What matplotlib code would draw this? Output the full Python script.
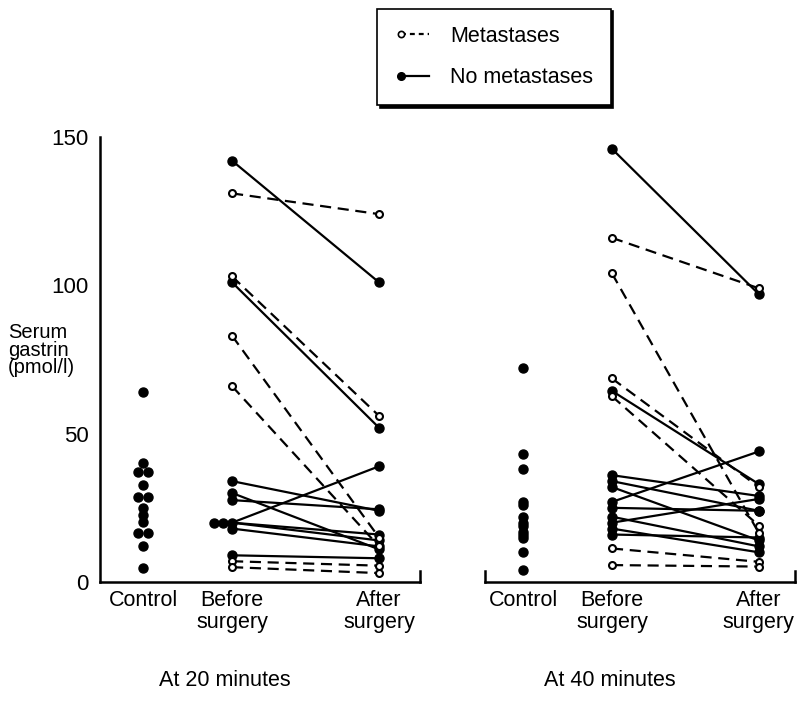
import numpy as np
import matplotlib
matplotlib.use("Agg")
import matplotlib.pyplot as plt
from matplotlib.lines import Line2D
from matplotlib.legend_handler import HandlerLine2D

plt.rcParams['font.family'] = ['Liberation Sans', 'DejaVu Sans']

# Serum gastrin (pmol/l)
ctrl_20 = [64, 40, 37, 37, 32.7, 28.7, 28.7, 24.8, 22.6, 20.3, 16.4, 16.4, 12.1, 4.6]
met_20_before = [131, 103, 83, 66, 7, 5]
met_20_after = [124, 56, 15, 12, 5.5, 3]
nomet_20_before = [142, 101, 34, 30, 27.6, 20, 20, 20, 18, 9]
nomet_20_after = [101, 52, 24, 11, 24.5, 39, 16, 14, 12, 8]

ctrl_40 = [72, 43, 38, 27, 26, 22, 20, 19, 17, 16, 15, 10, 4]
met_40_before = [116, 104, 68.6, 62.6, 11.3, 5.7]
met_40_after = [99, 16.5, 32, 19, 6.8, 5.2]
nomet_40_before = [146, 64.4, 36, 34, 32, 27, 25, 22, 20, 18, 16]
nomet_40_after = [97, 33, 29, 24, 14, 44, 24, 12, 28, 10, 15]

groups = ['Control', 'Before\nsurgery', 'After\nsurgery']
panel_titles = ['At 20 minutes', 'At 40 minutes']
yticks = [0, 50, 100, 150]

POS = [0, 1, 2.65]
FS = 15.5
LW = 1.6
DASH = (5, 3)


def offsets(values, mode):
    # spread repeated values sideways so the dots stay visible
    vals = list(values)
    out = []
    for i, v in enumerate(vals):
        n = vals.count(v)
        k = vals[:i].count(v)
        if n == 1:
            out.append(0.0)
        elif mode == 'centre':
            out.append((k - (n - 1) / 2) * 0.12)
        else:
            out.append(-k * 0.1)
    return np.array(out)


def panel(ax, ctrl, mb, ma, nb, na, xlim):
    ax.plot(POS[0] + offsets(ctrl, 'centre'), ctrl, 'o', color='k', ms=6.5,
            ls='none', clip_on=False)
    for b, a in zip(nb, na):
        ax.plot([POS[1], POS[2]], [b, a], color='k', lw=LW, zorder=2)
    for b, a in zip(mb, ma):
        ax.plot([POS[1], POS[2]], [b, a], color='k', lw=LW, ls=(0, DASH), zorder=2)
    ax.plot(POS[1] + offsets(nb, 'left'), nb, 'o', color='k', ms=6.5, ls='none',
            zorder=3, clip_on=False)
    ax.plot(np.full(len(na), POS[2]), na, 'o', color='k', ms=6.5, ls='none',
            zorder=3, clip_on=False)
    ax.plot(np.full(len(mb), POS[1]), mb, 'o', mfc='white', mec='k', mew=1.5,
            ms=5, ls='none', zorder=4, clip_on=False)
    ax.plot(np.full(len(ma), POS[2]), ma, 'o', mfc='white', mec='k', mew=1.5,
            ms=5, ls='none', zorder=4, clip_on=False)
    ax.set_xlim(*xlim)
    ax.set_ylim(0, 150)
    ax.set_xticks(POS)
    ax.set_xticklabels(groups, fontsize=FS, linespacing=1.05)
    ax.tick_params(axis='x', length=0, pad=6)
    for s in ['top', 'right']:
        ax.spines[s].set_visible(False)
    ax.spines['bottom'].set_linewidth(1.8)
    ax.spines['left'].set_linewidth(1.8)


class MarkerFirst(HandlerLine2D):
    # legend key with the marker only at the left end of the line
    def create_artists(self, *args, **kwargs):
        artists = super().create_artists(*args, **kwargs)
        for a in artists:
            a.set_markevery([0])
        return artists


fig = plt.figure(figsize=(7.99, 7.02), dpi=100)
ax1 = fig.add_axes([100 / 799, 120 / 702, 320 / 799, 445 / 702])
ax2 = fig.add_axes([485 / 799, 120 / 702, 310 / 799, 445 / 702])

panel(ax1, ctrl_20, met_20_before, met_20_after, nomet_20_before, nomet_20_after,
      (-0.483, 3.11))
panel(ax2, ctrl_40, met_40_before, met_40_after, nomet_40_before, nomet_40_after,
      (-0.427, 3.056))

ax1.set_yticks(yticks)
ax1.set_yticklabels([str(t) for t in yticks], fontsize=16)
ax1.tick_params(axis='y', length=0, pad=8)
ax2.spines['left'].set_visible(False)
ax2.set_yticks([])

# small upturns at the ends of the baselines
ax1.plot([1, 1], [0, 0.025], transform=ax1.transAxes, color='k', lw=1.8,
         clip_on=False)
for xe in (0, 1):
    ax2.plot([xe, xe], [0, 0.025], transform=ax2.transAxes, color='k', lw=1.8,
             clip_on=False)

fig.text(0.01, 1 - 350 / 702, 'Serum\ngastrin\n(pmol/l)', fontsize=14.5,
         ha='left', va='center', linespacing=0.9)
fig.text(225 / 799, 1 - 680 / 702, panel_titles[0], fontsize=FS, ha='center',
         va='center')
fig.text(610 / 799, 1 - 680 / 702, panel_titles[1], fontsize=FS, ha='center',
         va='center')

handles = [
    Line2D([0], [0], color='k', lw=LW, ls=(0, (2.2, 1.8)), marker='o',
           mfc='white', mec='k', mew=1.2, ms=4.5),
    Line2D([0], [0], color='k', lw=LW, ls='-', marker='o', mfc='k', mec='k',
           ms=5.5),
]
leg = fig.legend(handles, ['Metastases', 'No metastases'], loc='center',
                 bbox_to_anchor=(494 / 799, 1 - 57 / 702), numpoints=2,
                 handler_map={Line2D: MarkerFirst()},
                 fontsize=FS, frameon=True, fancybox=False, edgecolor='k',
                 shadow={'color': 'k', 'alpha': 1}, handlelength=1.9,
                 handletextpad=0.7, labelspacing=0.95, borderpad=0.8,
                 borderaxespad=0)
leg.get_frame().set_linewidth(1.2)

fig.savefig('out.png', dpi=100)
